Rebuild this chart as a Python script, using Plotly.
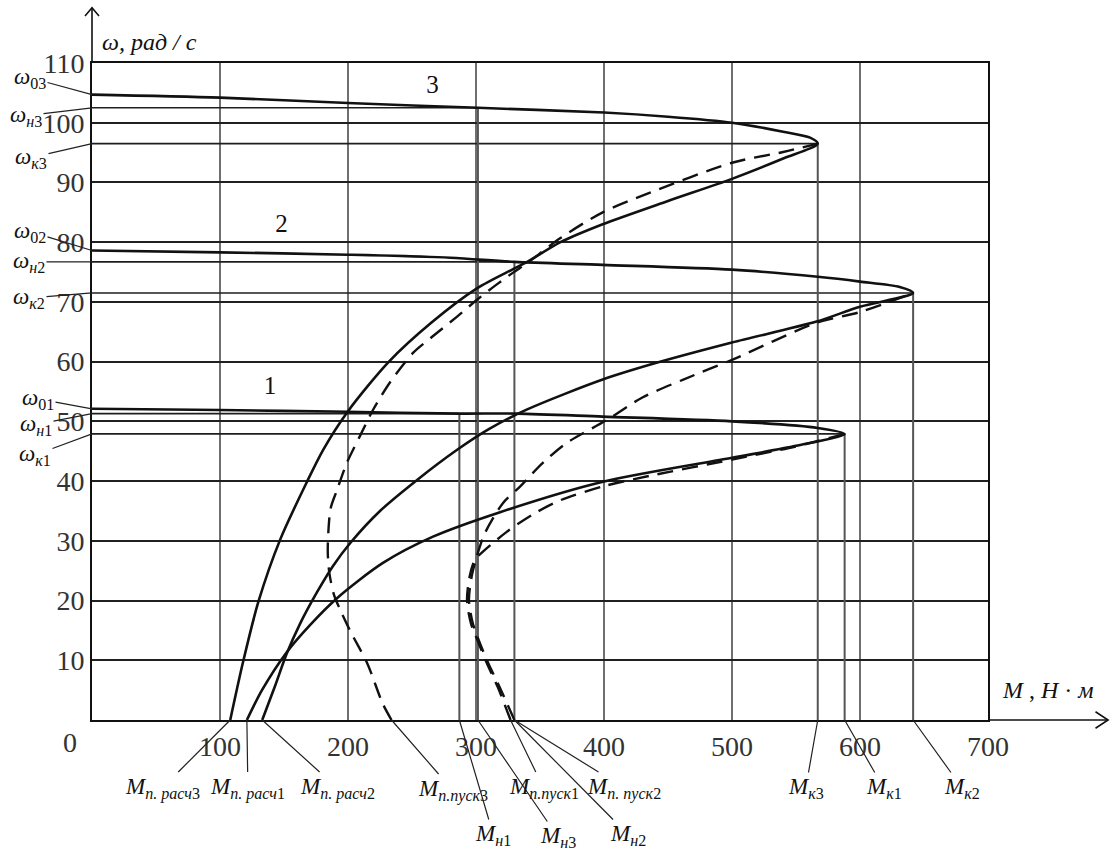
import plotly.graph_objects as go

# ---------------- data (M in N·m, ω in rad/s) ----------------
x_ticks = [100, 200, 300, 400, 500, 600, 700]
y_ticks = [10, 20, 30, 40, 50, 60, 70, 80, 90, 100, 110]

# characteristic 3, solid (from M_п.расч3 to critical point and back to ω03)
c3_M = [108, 118, 130, 147, 168, 180.5, 200, 232, 265, 301, 329, 340, 366, 399, 450, 500, 540, 567,
        561, 540, 500, 450, 400, 301.5, 200, 100, 0]
c3_w = [0, 9.7, 19.8, 30.2, 39.9, 45.2, 51.7, 60, 66.5, 72.3, 75.5, 76.7, 80, 83, 86.9, 90.6, 94, 96.5,
        97.5, 98.5, 100, 101, 101.7, 102.5, 103.3, 104.2, 104.7]
# characteristic 3, dashed (from M_п.пуск3 to critical point)
c3d_M = [234, 227, 215, 201.5, 194, 189, 185.5, 184.2, 184.8, 186.5, 191.4, 199, 209, 219.5, 233, 251, 266, 285, 301,
         316, 329, 340, 366, 399, 436, 500, 540, 567]
c3d_w = [0, 2.8, 9.5, 15, 18.4, 21, 24.5, 28, 32, 35.5, 38.5, 43, 47.4, 51.9, 56.6, 61.5, 64.2, 67.5, 70.4,
         72.9, 74.9, 76.5, 80.7, 85, 88.3, 93.3, 95.1, 96.5]

# characteristic 2, solid
c2_M = [133, 143, 152.3, 162.5, 175.8, 188.3, 201.6, 225, 254, 285, 310, 340, 399, 441, 500, 566, 600, 641.5,
        631, 600, 567, 500, 399, 330, 280, 200, 100, 0]
c2_w = [0, 5.7, 11.2, 16.1, 21.4, 25.8, 29.6, 35, 40.2, 45.2, 48.7, 52, 57, 59.8, 63.2, 66.7, 69.2, 71.5,
        72.5, 73.4, 74.2, 75.4, 76.2, 76.7, 77.4, 77.9, 78.3, 78.6]
# characteristic 2, dashed
c2d_M = [330, 318.5, 309.6, 303, 297.5, 294.5, 296.6, 300.5, 307, 321, 334, 352, 371, 402, 430, 462, 500, 566,
         600, 641.5]
c2d_w = [0, 5.5, 9.5, 12.9, 16.2, 20.1, 24, 27.3, 31.3, 36.3, 39, 43, 46.4, 50.2, 54, 57, 60.3, 66.5,
         68.3, 71.5]

# characteristic 1, solid
c1_M = [121, 132.8, 152.3, 170.3, 191.4, 227.3, 266.4, 318.8, 399.2, 500, 550, 588,
        567, 500, 399, 332, 287, 200, 100, 0]
c1_w = [0, 5, 11.4, 15.9, 20.4, 26.3, 30.7, 34.8, 39.9, 43.9, 45.9, 47.9,
        48.9, 50, 50.8, 51.3, 51.3, 51.6, 51.9, 52.1]
# characteristic 1, dashed
c1d_M = [327, 317, 308.5, 302, 296, 293, 295, 299, 305, 324, 345, 366, 399, 436, 500, 550, 588]
c1d_w = [0, 5.5, 9.5, 12.9, 16.2, 20.1, 24, 26.8, 28.1, 31.5, 34.5, 36.8, 39.1, 40.9, 43.6, 45.8, 47.9]

# characteristic points, index 0 -> 1, 1 -> 2, 2 -> 3
w0 = [52.1, 78.6, 104.7]
M_nom = [287, 330, 301.5]
w_nom = [51.3, 76.7, 102.5]
M_crit = [588, 641.5, 567]
w_crit = [47.9, 71.5, 96.5]
M_rasch = [121, 133, 108]
M_pusk = [327, 330, 234]

# curve number labels (position on the chart)
curve_names = ["1", "2", "3"]
curve_name_M = [139, 148, 266]
curve_name_w = [55.6, 82.7, 106]

FONT = "Liberation Serif"
BLACK = "#111111"

fig = go.Figure()

# special horizontal / vertical lines
for i in range(3):
    fig.add_trace(go.Scatter(x=[0, M_crit[i]], y=[w_crit[i], w_crit[i]], mode="lines",
                             line=dict(color="#1e1e1e", width=1.6), hoverinfo="skip", showlegend=False))
    fig.add_trace(go.Scatter(x=[0, M_nom[i]], y=[w_nom[i], w_nom[i]], mode="lines",
                             line=dict(color="#1e1e1e", width=1.6), hoverinfo="skip", showlegend=False))
    fig.add_trace(go.Scatter(x=[M_crit[i], M_crit[i]], y=[0, w_crit[i]], mode="lines",
                             line=dict(color="#555555", width=2), hoverinfo="skip", showlegend=False))
    fig.add_trace(go.Scatter(x=[M_nom[i], M_nom[i]], y=[0, w_nom[i]], mode="lines",
                             line=dict(color="#555555", width=2), hoverinfo="skip", showlegend=False))

# characteristics
for xs, ys in [(c1_M, c1_w), (c2_M, c2_w), (c3_M, c3_w)]:
    fig.add_trace(go.Scatter(x=xs, y=ys, mode="lines", line=dict(color=BLACK, width=2.6, shape="spline", smoothing=0.8),
                             hoverinfo="skip", showlegend=False))
for xs, ys in [(c1d_M, c1d_w), (c2d_M, c2d_w), (c3d_M, c3d_w)]:
    fig.add_trace(go.Scatter(x=xs, y=ys, mode="lines",
                             line=dict(color=BLACK, width=2.4, dash="16px,9px", shape="spline", smoothing=0.8),
                             hoverinfo="skip", showlegend=False))

# curve numbers
fig.add_trace(go.Scatter(x=curve_name_M, y=curve_name_w, mode="text", text=curve_names,
                         textfont=dict(family=FONT, size=25, color=BLACK), hoverinfo="skip", showlegend=False,
                         cliponaxis=False))

fig.update_layout(
    width=1112, height=850,
    margin=dict(l=92, r=124, t=63, b=130),
    paper_bgcolor="white", plot_bgcolor="white",
    showlegend=False,
)
fig.update_xaxes(range=[0, 700], tickvals=x_ticks, ticktext=[str(v) for v in x_ticks],
                 showgrid=True, gridcolor="#707070", gridwidth=2,
                 showline=True, linecolor=BLACK, linewidth=2, mirror=True, zeroline=False, ticks="",
                 tickfont=dict(family=FONT, size=28, color="#333333"))
fig.update_yaxes(range=[0, 110], tickvals=y_ticks, ticktext=[str(v) for v in y_ticks],
                 showgrid=True, gridcolor="#202020", gridwidth=1.6,
                 showline=True, linecolor=BLACK, linewidth=2, mirror=True, zeroline=False, ticks="",
                 tickfont=dict(family=FONT, size=28, color="#333333"))

# axis extensions with open arrow heads (paper coordinates)
ext = dict(color=BLACK, width=1.6)
fig.add_shape(type="line", xref="paper", yref="paper", x0=1, y0=0, x1=1.134, y1=0, line=ext)
fig.add_shape(type="path", xref="paper", yref="paper",
              path="M 1.120,0.0125 L 1.134,0 L 1.120,-0.0125", line=ext)
fig.add_shape(type="line", xref="paper", yref="paper", x0=0, y0=1, x1=0, y1=1.084, line=ext)
fig.add_shape(type="path", xref="paper", yref="paper",
              path="M -0.0078,1.0715 L 0,1.084 L 0.0078,1.0715", line=ext)

# axis titles
fig.add_annotation(xref="paper", yref="paper", x=0.009, y=1.032, xanchor="left", yanchor="middle",
                   text="<i>ω, рад / с</i>", showarrow=False, font=dict(family=FONT, size=24, color=BLACK))
fig.add_annotation(xref="paper", yref="paper", x=1.0134, y=0.0457, xanchor="left", yanchor="middle",
                   text="<i>M</i> , <i>Н</i> · <i>м</i>", showarrow=False, font=dict(family=FONT, size=24, color=BLACK))
fig.add_annotation(xref="paper", yref="paper", x=-0.0246, y=-0.0335, xanchor="center", yanchor="middle",
                   text="0", showarrow=False, font=dict(family=FONT, size=28, color="#333333"))


def lead(text, x, y, ax, ay):
    fig.add_annotation(x=x, y=y, xref="x", yref="y", text=text, showarrow=True, arrowhead=0,
                       arrowwidth=1.2, arrowcolor="#222222", ax=ax, ay=ay, standoff=0,
                       font=dict(family=FONT, size=23, color=BLACK))


# torque labels under the axis
lead("<i>M</i><sub><i>п. расч</i>3</sub>", M_rasch[2], 0, -68, 68)
lead("<i>M</i><sub><i>п. расч</i>1</sub>", M_rasch[0], 0, 1, 68)
lead("<i>M</i><sub><i>п. расч</i>2</sub>", M_rasch[1], 0, 75, 68)
lead("<i>M</i><sub><i>п.пуск</i>3</sub>", M_pusk[2], 0, 61, 70)
lead("<i>M</i><sub><i>н</i>1</sub>", M_nom[0], 0, 34, 115)
lead("<i>M</i><sub><i>н</i>3</sub>", M_nom[2], 0, 80, 117)
lead("<i>M</i><sub><i>н</i>2</sub>", M_nom[1], 0, 114, 115)
lead("<i>M</i><sub><i>п.пуск</i>1</sub>", M_pusk[0], 0, 33, 68)
lead("<i>M</i><sub><i>п. пуск</i>2</sub>", M_pusk[1], 0, 110, 68)
lead("<i>M</i><sub><i>к</i>3</sub>", M_crit[2], 0, -12, 68)
lead("<i>M</i><sub><i>к</i>1</sub>", M_crit[0], 0, 39, 68)
lead("<i>M</i><sub><i>к</i>2</sub>", M_crit[1], 0, 49, 68)

# speed labels left of the axis
lead("<i>ω</i><sub>03</sub>", 0, w0[2], -62, -17)
lead("<i>ω</i><sub><i>н</i>3</sub>", 0, w_nom[2], -66, 8)
lead("<i>ω</i><sub><i>к</i>3</sub>", 0, w_crit[2], -61, 14)
lead("<i>ω</i><sub>02</sub>", 0, w0[1], -62, -19)
lead("<i>ω</i><sub><i>н</i>2</sub>", 0, w_nom[1], -63, 0)
lead("<i>ω</i><sub><i>к</i>2</sub>", 0, w_crit[1], -63, 5)
lead("<i>ω</i><sub>01</sub>", 0, w0[0], -54, -10)
lead("<i>ω</i><sub><i>н</i>1</sub>", 0, w_nom[0], -56, 11)
lead("<i>ω</i><sub><i>к</i>1</sub>", 0, w_crit[0], -57, 21)

fig.write_html("out.html")
